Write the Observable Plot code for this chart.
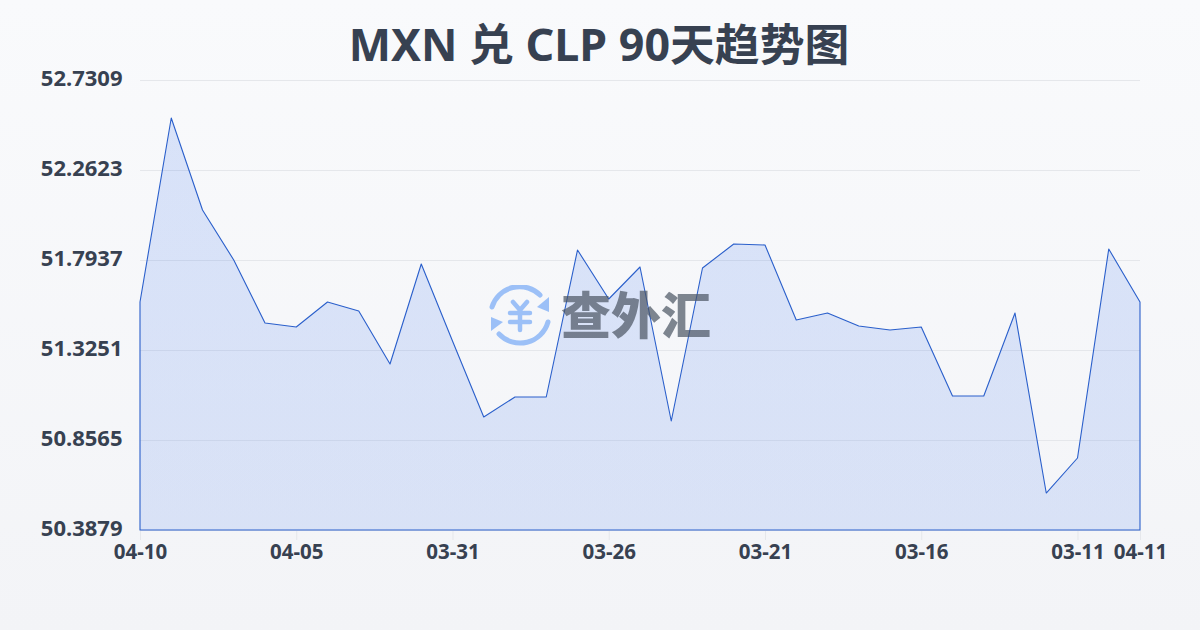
<!DOCTYPE html>
<html><head><meta charset="utf-8">
<script src="https://cdn.jsdelivr.net/npm/d3@7"></script>
<script src="https://cdn.jsdelivr.net/npm/@observablehq/plot@0.6"></script>
<style>
html,body{margin:0;padding:0;width:1200px;height:630px;overflow:hidden;background:linear-gradient(180deg,#f9fafc,#f3f4f7);font-family:"Noto Sans","Noto Sans CJK SC",sans-serif}
#title{position:absolute;left:-1px;top:0;width:1200px;text-align:center;font-size:44.8px;font-weight:700;color:#374151;line-height:88px;white-space:nowrap}
#chart{position:absolute;left:0;top:0}
#chart svg{background:none;overflow:visible}
#wm{position:absolute;left:489px;top:285px;width:230px;height:60px;pointer-events:none}
#wm span{position:absolute;left:72px;top:-3px;font-family:"Noto Sans CJK SC";font-size:50px;line-height:60px;font-weight:900;color:#4b5563;opacity:.7;white-space:nowrap}
</style></head><body>
<div id="title">MXN 兑 CLP 90天趋势图</div>
<div id="chart"></div>
<div id="wm">
<svg width="62" height="62" viewBox="0 0 62 62" fill="none" stroke="#9cc0f7" stroke-width="5" stroke-linecap="round">
<path d="M3 22A29 29 0 0 1 51 10"/><path d="M59 37A29 29 0 0 1 10 49"/>
<path d="M60 12V27L48 22Z" fill="#9cc0f7" stroke="none"/><path d="M2 32V46L14 37Z" fill="#9cc0f7" stroke="none"/>
<path d="M24 17L31 25 38 17M21 28H41M21 37H41M31 25V45" stroke-width="4.5"/>
</svg><span>查外汇</span></div>
<script>
const dates = ["04-10","04-09","04-08","04-07","04-06","04-05","04-04","04-03","04-02","04-01","03-31","03-30","03-29","03-28","03-27","03-26","03-25","03-24","03-23","03-22","03-21","03-20","03-19","03-18","03-17","03-16","03-15","03-14","03-13","03-12","03-11","03-10","04-11"];
const rates = [51.5750,52.5331,52.0540,51.7937,51.4657,51.4449,51.5750,51.5282,51.2522,51.7729,51.3720,50.9763,51.0804,51.0804,51.8458,51.5906,51.7573,50.9554,51.7521,51.8770,51.8718,51.4813,51.5178,51.4501,51.4292,51.4449,51.0856,51.0856,51.5178,50.5805,50.7628,51.8510,51.5750];
const yTicks = [50.3879,50.8565,51.3251,51.7937,52.2623,52.7309];
const xTicks = ["04-10","04-05","03-31","03-26","03-21","03-16","03-11","04-11"];
const baseline = 50.3879;
const table = dates.map((date,i)=>({date,rate:rates[i]}));
const gradient = () => {
  const s = d3.create("svg:defs");
  const g = s.append("linearGradient").attr("id","fillGrad").attr("x1",0).attr("x2",0).attr("y1",0).attr("y2",1);
  g.append("stop").attr("offset","0%").attr("stop-color","#2563eb").attr("stop-opacity",.15);
  g.append("stop").attr("offset","100%").attr("stop-color","#2563eb").attr("stop-opacity",.13);
  return s.node();
};
const plot = Plot.plot({
  width:1200,height:630,marginLeft:140,marginRight:60,marginTop:80,marginBottom:100,
  style:{background:"none",fontFamily:'"Noto Sans","Noto Sans CJK SC",sans-serif',overflow:"visible"},
  x:{type:"point",domain:dates,padding:0,round:false,label:null},
  y:{domain:[50.3879,52.7309],label:null},
  marks:[
    gradient,
    Plot.ruleY(yTicks,{stroke:"#e5e7eb",strokeWidth:1}),
    Plot.axisX({ticks:xTicks,tickSize:10,tickPadding:4,stroke:"#e5e7eb",strokeOpacity:1,fontSize:20.5,fontWeight:700,fill:"#374151",label:null}),
    Plot.axisY({ticks:yTicks,tickSize:0,tickPadding:18,tickFormat:d=>d.toFixed(4),fontSize:22,fontWeight:700,fill:"#374151",label:null,dy:-2}),
    Plot.areaY(table,{x:"date",y1:baseline,y2:"rate",fill:"url(#fillGrad)",stroke:"#2a5fcb",strokeWidth:1.1})
  ]
});
document.getElementById("chart").append(plot);
</script>
</body></html>
